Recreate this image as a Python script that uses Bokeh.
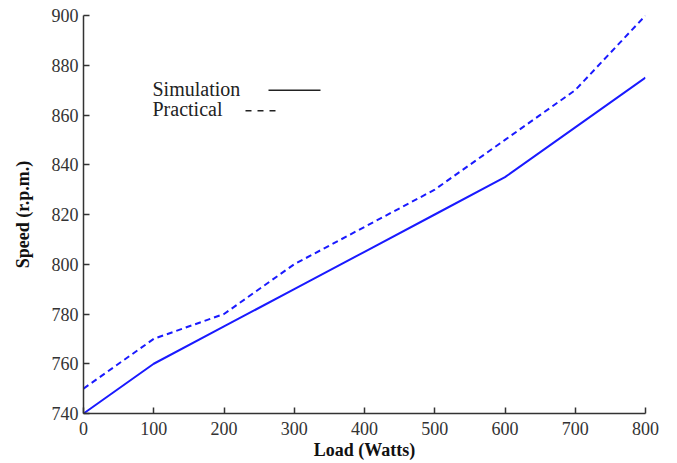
from bokeh.plotting import figure
from bokeh.models import FixedTicker, Range1d, Label, BoxAnnotation
from bokeh.embed import file_html
from bokeh.resources import INLINE

load = [0, 100, 200, 300, 400, 500, 600, 700, 800]
simulation = [740, 760, 775, 790, 805, 820, 835, 855, 875]
practical = [750, 770, 780, 800, 815, 830, 850, 870, 900]
x_ticks = [0, 100, 200, 300, 400, 500, 600, 700, 800]
y_ticks = [740, 760, 780, 800, 820, 840, 860, 880, 900]

FONT = "Liberation Serif"
BLUE = "#1a1aff"
AXC = "#333333"

p = figure(width=668, height=462, output_backend="svg", toolbar_location=None,
           x_range=Range1d(0, 800), y_range=Range1d(740, 900),
           min_border_left=83, min_border_right=23, min_border_top=15, min_border_bottom=49)
p.outline_line_color = None
p.grid.visible = False

p.line(load, simulation, line_color=BLUE, line_width=2)
p.line(load, practical, line_color=BLUE, line_width=2, line_dash="6 4")

for ax, ticks in ((p.xaxis[0], x_ticks), (p.yaxis[0], y_ticks)):
    ax.ticker = FixedTicker(ticks=ticks)
    ax.minor_tick_line_color = None
    ax.major_tick_in = 6
    ax.major_tick_out = 0
    ax.axis_line_color = AXC
    ax.axis_line_width = 1.5
    ax.major_tick_line_color = AXC
    ax.major_tick_line_width = 1.5
    ax.major_label_text_font = FONT
    ax.major_label_text_font_size = "18px"
    ax.major_label_text_color = "#333333"
    ax.axis_label_text_font = FONT
    ax.axis_label_text_font_size = "18px"
    ax.axis_label_text_font_style = "bold"
    ax.axis_label_text_color = "#111111"

p.xaxis.axis_label = "Load (Watts)"
p.yaxis.axis_label = "Speed (r.p.m.)"
p.xaxis.major_label_standoff = 8
p.xaxis.axis_label_standoff = 2
p.yaxis.major_label_standoff = 5
p.yaxis.axis_label_standoff = 16

# legend (text left, sample right), placed in screen units relative to frame
p.add_layout(Label(x=69, y=325, x_units="screen", y_units="screen", text="Simulation",
                   text_font=FONT, text_font_size="20px", text_baseline="middle",
                   text_color="#222222"))
p.add_layout(Label(x=69, y=305, x_units="screen", y_units="screen", text="Practical",
                   text_font=FONT, text_font_size="20px", text_baseline="middle",
                   text_color="#222222"))
p.add_layout(BoxAnnotation(left=185, right=237, bottom=322.5, top=324,
                           left_units="screen", right_units="screen",
                           bottom_units="screen", top_units="screen",
                           fill_color="#222222", fill_alpha=1, line_color=None))
for l in (162, 174, 186):
    p.add_layout(BoxAnnotation(left=l, right=l + 6, bottom=302, top=303.5,
                               left_units="screen", right_units="screen",
                               bottom_units="screen", top_units="screen",
                               fill_color="#222222", fill_alpha=1, line_color=None))

open("out.html", "w").write(file_html(p, INLINE))
